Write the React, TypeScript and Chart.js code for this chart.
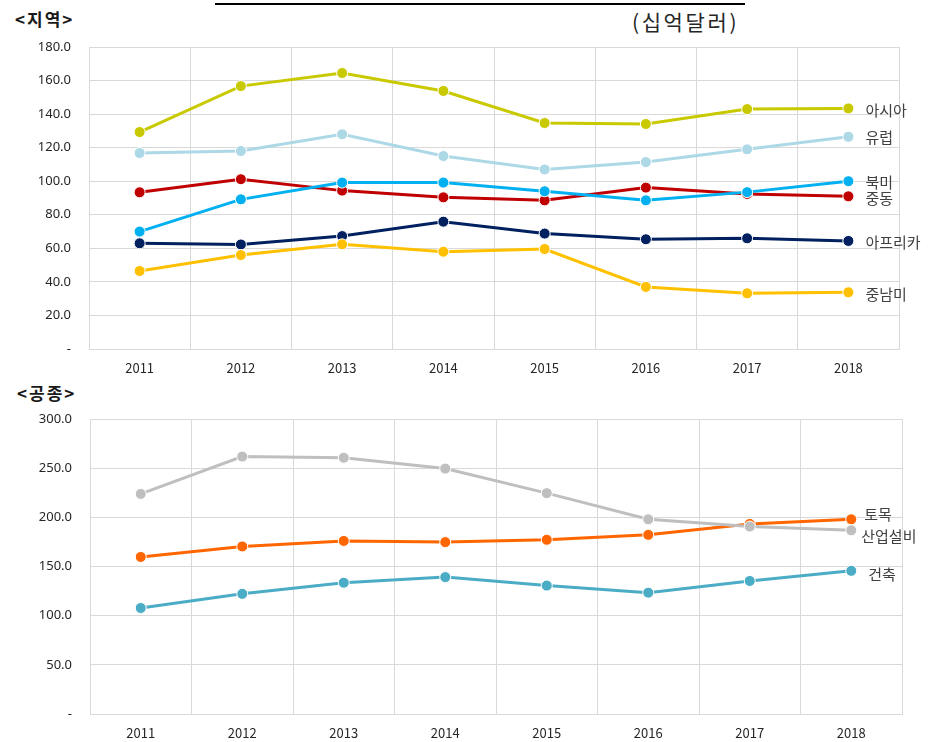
import React, { useEffect, useRef } from "react";
import { Chart, registerables } from "chart.js";

Chart.register(...registerables);

const years = ["2011", "2012", "2013", "2014", "2015", "2016", "2017", "2018"];

const regionNames = ["아시아", "유럽", "북미", "중동", "아프리카", "중남미"];
const asia = [129.3, 156.7, 164.5, 153.8, 134.7, 134.1, 143.0, 143.4];
const europe = [116.8, 118.0, 128.0, 115.0, 107.0, 111.4, 119.0, 126.5];
const northAmerica = [70.0, 89.2, 99.2, 99.2, 94.0, 88.6, 93.5, 100.0];
const middleEast = [93.4, 101.2, 94.4, 90.4, 88.6, 96.2, 92.4, 91.0];
const africa = [63.0, 62.3, 67.3, 75.9, 68.8, 65.4, 66.0, 64.4];
const latinAmerica = [46.5, 56.0, 62.4, 58.0, 59.6, 37.0, 33.2, 33.8];
const regionTicks = [0, 20, 40, 60, 80, 100, 120, 140, 160, 180];

const sectorNames = ["토목", "산업설비", "건축"];
const civil = [159.7, 170.4, 176.0, 174.8, 177.2, 182.2, 193.3, 198.0];
const industrial = [223.8, 261.8, 260.6, 249.6, 224.6, 198.0, 190.6, 186.8];
const building = [107.8, 122.2, 133.5, 139.2, 130.6, 123.4, 135.3, 145.6];
const sectorTicks = [0, 50, 100, 150, 200, 250, 300];

const fmt = (v: number) => (v === 0 ? "-" : v.toFixed(1));

function makeDs(label: string, data: number[], color: string, order: number) {
  return {
    label,
    data,
    borderColor: color,
    backgroundColor: color,
    pointBackgroundColor: color,
    pointBorderColor: "#ffffff",
    pointBorderWidth: 1,
    pointRadius: 5.5,
    borderWidth: 3,
    tension: 0,
    order,
  };
}

const endLabels = {
  id: "endLabels",
  afterDatasetsDraw(chart: any, _args: any, opts: any) {
    const ctx = chart.ctx;
    ctx.save();
    ctx.font = '15px "Noto Sans CJK KR"';
    ctx.fillStyle = "#404040";
    ctx.textBaseline = "middle";
    ctx.textAlign = "left";
    const offs = opts.offsets || [];
    chart.data.datasets.forEach((ds: any, i: number) => {
      const meta = chart.getDatasetMeta(i);
      const pt = meta.data[meta.data.length - 1];
      const o = offs[i] || [0, 0];
      ctx.fillText(ds.label, pt.x + 17 + o[0], pt.y + o[1]);
    });
    ctx.restore();
  },
};

function buildOptions(ticks: number[], yWidth: number, xHeight: number, pad: any, offsets: number[][]) {
  const min = ticks[0];
  const max = ticks[ticks.length - 1];
  return {
    responsive: false,
    animation: false,
    layout: { padding: pad, autoPadding: false },
    plugins: {
      legend: { display: false },
      tooltip: { enabled: false },
      endLabels: { offsets },
    },
    scales: {
      x: {
        offset: true,
        grid: { offset: true, color: "#d9d9d9", lineWidth: 1, drawTicks: false },
        border: { color: "#d9d9d9" },
        ticks: {
          padding: 11,
          color: "#262626",
          font: { family: '"Noto Sans CJK KR"', size: 13 },
          maxRotation: 0,
        },
        afterFit: (s: any) => {
          s.height = xHeight;
        },
      },
      y: {
        min,
        max,
        afterBuildTicks: (s: any) => {
          s.ticks = ticks.map((v) => ({ value: v }));
        },
        grid: {
          color: "#d9d9d9",
          lineWidth: 1,
          drawTicks: true,
          tickLength: 18,
          tickColor: "rgba(0,0,0,0)",
        },
        border: { color: "#d9d9d9" },
        ticks: {
          padding: 0,
          color: "#262626",
          font: { family: '"Noto Sans"', size: 13 },
          callback: (v: any) => fmt(Number(v)),
        },
        afterFit: (s: any) => {
          s.width = yWidth;
        },
      },
    },
  };
}

function LineCanvas(props: { cfg: () => any; style: React.CSSProperties; w: number; h: number }) {
  const ref = useRef<HTMLCanvasElement | null>(null);
  useEffect(() => {
    if (!ref.current) return;
    const c = new Chart(ref.current, props.cfg());
    return () => c.destroy();
  }, []);
  return <canvas ref={ref} width={props.w} height={props.h} style={{ position: "absolute", ...props.style }} />;
}

export default function App() {
  const cfgTop = () => ({
    type: "line",
    data: {
      labels: years,
      datasets: [
        makeDs(regionNames[0], asia, "#c9c900", 6),
        makeDs(regionNames[1], europe, "#add8e6", 5),
        makeDs(regionNames[2], northAmerica, "#00b0f0", 3),
        makeDs(regionNames[3], middleEast, "#c00000", 4),
        makeDs(regionNames[4], africa, "#002060", 2),
        makeDs(regionNames[5], latinAmerica, "#ffc000", 1),
      ],
    },
    options: buildOptions(regionTicks, 89, 41, { top: 17, left: 0, right: 37, bottom: 0 }, [
      [0, 2],
      [0, 1],
      [0, 1],
      [0, 2],
      [0, 1],
      [0, 2],
    ]),
    plugins: [endLabels],
  });

  const cfgBottom = () => ({
    type: "line",
    data: {
      labels: years,
      datasets: [
        makeDs(sectorNames[0], civil, "#ff6600", 2),
        makeDs(sectorNames[1], industrial, "#bfbfbf", 1),
        makeDs(sectorNames[2], building, "#4bacc6", 3),
      ],
    },
    options: buildOptions(sectorTicks, 90, 28, { top: 19, left: 0, right: 34, bottom: 0 }, [
      [-4, -5],
      [-7, 6],
      [0, 3],
    ]),
    plugins: [endLabels],
  });

  const txt: React.CSSProperties = {
    position: "absolute",
    fontFamily: '"Noto Sans CJK KR"',
    color: "#1a1a1a",
    whiteSpace: "nowrap",
    lineHeight: 1,
  };

  return (
    <div style={{ position: "absolute", left: 0, top: 0, width: 936, height: 742, background: "#ffffff", overflow: "hidden" }}>
      <div style={{ position: "absolute", left: 215, top: 3, width: 530, height: 0, borderTop: "2px solid #000" }} />
      <div style={{ ...txt, left: 15, top: 10, fontSize: 17, fontWeight: 700, letterSpacing: 2 }}>&lt;지역&gt;</div>
      <div style={{ ...txt, left: 632, top: 11, fontSize: 21, color: "#262626", letterSpacing: 2.6 }}>(십억달러)</div>
      <div style={{ ...txt, left: 17, top: 384, fontSize: 17, fontWeight: 700, letterSpacing: 2 }}>&lt;공종&gt;</div>
      <LineCanvas cfg={cfgTop} w={936} h={360} style={{ left: 0, top: 30 }} />
      <LineCanvas cfg={cfgBottom} w={936} h={342} style={{ left: 0, top: 400 }} />
    </div>
  );
}
